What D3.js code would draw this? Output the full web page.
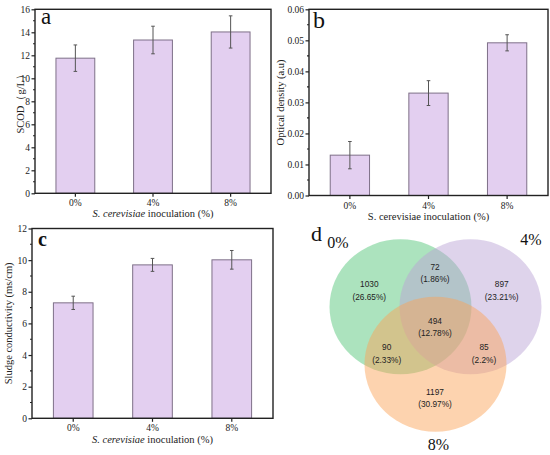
<!DOCTYPE html>
<html><head><meta charset="utf-8">
<script src="https://cdn.jsdelivr.net/npm/d3@7"></script>
<style>
html,body{margin:0;padding:0;background:#fff;}
svg{display:block;}
</style></head>
<body>
<svg id="chart" width="550" height="455" font-family="'Liberation Serif', 'Times New Roman', serif"></svg>
<script>
// ---- data ----
const categories = ["0%", "4%", "8%"];
const scodMean = [11.75, 13.33, 14.03];
const scodErr  = [1.15, 1.2, 1.4];
const odMean   = [0.013, 0.033, 0.0492];
const odErr    = [0.0044, 0.004, 0.0026];
const condMean = [7.3, 9.7, 10.02];
const condErr  = [0.42, 0.41, 0.59];
const scodTicks = [0, 2, 4, 6, 8, 10, 12, 14, 16];
const odTicks   = [0, 0.01, 0.02, 0.03, 0.04, 0.05, 0.06];
const condTicks = [0, 2, 4, 6, 8, 10, 12];
const vennSets = ["0%", "4%", "8%"];
// regions: A only, B only, C only, AB, AC, BC, ABC
const vennCounts = [1030, 897, 1197, 72, 90, 85, 494];
const vennPct = ["26.65%", "23.21%", "30.97%", "1.86%", "2.33%", "2.2%", "12.78%"];

const SERIF = "'Liberation Serif', 'Times New Roman', serif";
const SANS = "'Liberation Sans', Arial, Helvetica, sans-serif";
const svg = d3.select("#chart");
const barFill = "#e3cff0", barStroke = "#7e7088", axisColor = "#222";

function barPanel(o) {
  const g = svg.append("g");
  const x = d3.scaleBand().domain(categories).range([o.x0, o.x1]).paddingInner(0.5).paddingOuter(0.27);
  const y = d3.scaleLinear().domain(o.domain).range([o.y1, o.y0]);
  const cx = i => x(categories[i]) + x.bandwidth() / 2;
  // bars
  g.selectAll("rect.bar").data(o.mean).join("rect")
    .attr("x", (d, i) => x(categories[i])).attr("width", x.bandwidth())
    .attr("y", d => y(d)).attr("height", d => y(0) - y(d))
    .attr("fill", barFill).attr("stroke", barStroke).attr("stroke-width", 1);
  // error bars
  const eb = g.selectAll("g.eb").data(o.mean).join("g").attr("stroke", "#555").attr("stroke-width", 1);
  eb.append("line").attr("x1", (d, i) => cx(i)).attr("x2", (d, i) => cx(i))
    .attr("y1", (d, i) => y(d + o.err[i])).attr("y2", (d, i) => y(d - o.err[i]));
  eb.append("line").attr("x1", (d, i) => cx(i) - 1.8).attr("x2", (d, i) => cx(i) + 1.8)
    .attr("y1", (d, i) => y(d + o.err[i])).attr("y2", (d, i) => y(d + o.err[i]));
  eb.append("line").attr("x1", (d, i) => cx(i) - 1.8).attr("x2", (d, i) => cx(i) + 1.8)
    .attr("y1", (d, i) => y(d - o.err[i])).attr("y2", (d, i) => y(d - o.err[i]));
  // frame
  g.append("rect").attr("x", o.x0).attr("y", o.y0).attr("width", o.x1 - o.x0).attr("height", o.y1 - o.y0)
    .attr("fill", "none").attr("stroke", axisColor).attr("stroke-width", 1.4);
  // y axis
  const ya = d3.axisLeft(y).tickValues(o.ticks).tickSize(3.5).tickPadding(1.5).tickFormat(o.fmt);
  const yg = g.append("g").attr("transform", `translate(${o.x0},0)`).call(ya);
  yg.select(".domain").remove();
  yg.selectAll("line").attr("stroke", axisColor).attr("stroke-width", 1.2);
  yg.selectAll("text").attr("font-family", SERIF).attr("font-size", 9.5).attr("fill", "#222");
  // minor ticks
  const minors = [];
  for (let i = 0; i < o.ticks.length - 1; i++) minors.push((o.ticks[i] + o.ticks[i + 1]) / 2);
  g.selectAll("line.minor").data(minors).join("line")
    .attr("x1", o.x0 - 2).attr("x2", o.x0).attr("y1", d => y(d)).attr("y2", d => y(d))
    .attr("stroke", axisColor).attr("stroke-width", 1.1);
  // x axis
  const xa = d3.axisBottom(x).tickSize(3.5).tickPadding(2.8);
  const xg = g.append("g").attr("transform", `translate(0,${o.y1})`).call(xa);
  xg.select(".domain").remove();
  xg.selectAll("line").attr("stroke", axisColor).attr("stroke-width", 1.2);
  xg.selectAll("text").attr("font-family", SERIF).attr("font-size", 9.5).attr("fill", "#222");
  // x title
  const xt = g.append("text").attr("x", (o.x0 + o.x1) / 2).attr("y", o.y1 + o.xTitleDy)
    .attr("text-anchor", "middle").attr("font-family", SERIF).attr("font-size", 10.5).attr("fill", "#222");
  if (o.italic) {
    xt.append("tspan").attr("font-style", "italic").text("S. cerevisiae");
    xt.append("tspan").text(" inoculation (%)");
  } else {
    xt.text("S. cerevisiae inoculation (%)");
  }
  // y title
  g.append("text").attr("transform", `translate(${o.yTitleX},${(o.y0 + o.y1) / 2}) rotate(-90)`)
    .attr("text-anchor", "middle").attr("font-family", SERIF).attr("font-size", 10.5).attr("fill", "#222")
    .text(o.yTitle);
  // panel letter
  g.append("text").attr("x", o.x0 + o.letterDx).attr("y", o.y0 + o.letterDy)
    .attr("font-family", SERIF).attr("font-size", o.letterSize).attr("fill", "#111")
    .attr("font-weight", o.letterWeight || "normal").text(o.letter);
}

barPanel({x0: 35, x1: 271, y0: 9.3, y1: 193.3, domain: [0, 16], ticks: scodTicks, fmt: d3.format("d"),
  mean: scodMean, err: scodErr, italic: true, yTitle: "SCOD（g/L）", yTitleX: 23.5, xTitleDy: 24,
  letter: "a", letterDx: 6, letterDy: 15, letterSize: 23});
barPanel({x0: 309, x1: 548, y0: 9.3, y1: 195.5, domain: [0, 0.06], ticks: odTicks, fmt: d3.format(".2f"),
  mean: odMean, err: odErr, italic: false, yTitle: "Optical density (a.u)", yTitleX: 283.5, xTitleDy: 24,
  letter: "b", letterDx: 4, letterDy: 19, letterSize: 24});
barPanel({x0: 32, x1: 273, y0: 228.5, y1: 418.3, domain: [0, 12], ticks: condTicks, fmt: d3.format("d"),
  mean: condMean, err: condErr, italic: true, yTitle: "Sludge conductivity (ms/cm)", yTitleX: 11.5, xTitleDy: 24.5,
  letter: "c", letterDx: 6, letterDy: 17, letterSize: 20, letterWeight: "bold"});

// ---- Venn ----
const vg = svg.append("g");
const vennCircles = [
  {cx: 400.5, cy: 306.8, fill: "#52c477"},
  {cx: 470.5, cy: 306.8, fill: "#b9a2d6"},
  {cx: 435.5, cy: 364.2, fill: "#fba457"}
];
const rx = 71, ry = 67.5;
vg.selectAll("ellipse").data(vennSets).join("ellipse")
  .attr("cx", (d, i) => vennCircles[i].cx).attr("cy", (d, i) => vennCircles[i].cy)
  .attr("rx", rx).attr("ry", ry).attr("fill", (d, i) => vennCircles[i].fill).attr("fill-opacity", 0.48);
// region label anchors
const regionPos = [[369.3, 284], [501.7, 284], [435, 391.7], [435, 266.7], [386.7, 347.3], [484, 347.3], [435, 320.7]];
vennCounts.forEach((c, i) => {
  const t = vg.append("text").attr("text-anchor", "middle").attr("font-family", SANS)
    .attr("font-size", 8.3).attr("fill", "#222");
  t.append("tspan").attr("x", regionPos[i][0]).attr("y", regionPos[i][1] + 3).text(c);
  t.append("tspan").attr("x", regionPos[i][0]).attr("y", regionPos[i][1] + 15.7).text("(" + vennPct[i] + ")");
});
const setLabelPos = [[338, 248], [531, 245], [438.5, 450]];
vennSets.forEach((s, i) => {
  vg.append("text").attr("x", setLabelPos[i][0]).attr("y", setLabelPos[i][1]).attr("text-anchor", "middle")
    .attr("font-family", SERIF).attr("font-size", 16).attr("fill", "#111").text(s);
});
vg.append("text").attr("x", 311).attr("y", 241).attr("font-family", SERIF).attr("font-size", 22)
  .attr("fill", "#111").text("d");
</script>
</body></html>
